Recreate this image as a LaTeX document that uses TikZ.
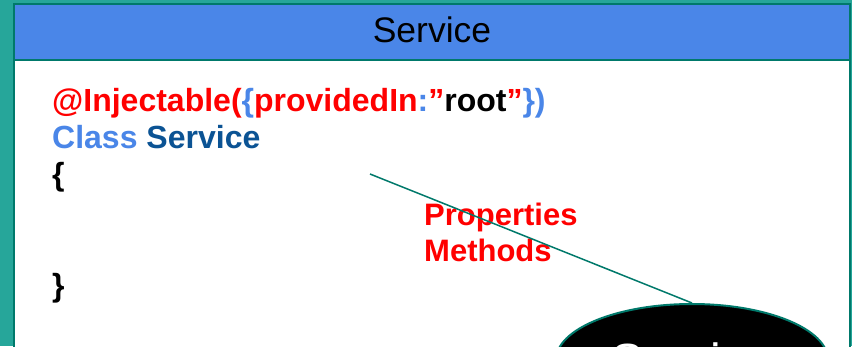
\documentclass[tikz,border=0pt]{standalone}
\usepackage{fontspec}
\setmainfont{Liberation Sans}
\usetikzlibrary{shapes.geometric}

\definecolor{bgteal}{HTML}{26A69A}
\definecolor{frameteal}{HTML}{00796B}
\definecolor{hdrblue}{HTML}{4A86E8}
\definecolor{kwblue}{HTML}{4A86E8}
\definecolor{namblue}{HTML}{0B5394}
\definecolor{codered}{HTML}{FF0000}

\tikzset{
  frame/.style={draw=frameteal, line width=2pt},
  codeline/.style={anchor=base west, inner sep=0pt, font=\fontsize{32}{37}\selectfont\bfseries},
  memberline/.style={anchor=base west, inner sep=0pt, text=codered, font=\fontsize{31}{36}\selectfont\bfseries},
  link/.style={draw=frameteal, line width=1.5pt},
}

\begin{document}
\begin{tikzpicture}[x=1pt, y=-1pt]
\useasboundingbox (0,0) rectangle (852,346);
\clip (0,0) rectangle (852,346);

% page background and the class card
\fill[bgteal] (0,0) rectangle (852,346);
\fill[white] (14.3,3.7) rectangle (850.3,360);
\fill[hdrblue] (14.3,3.7) rectangle (850.3,60.3);
\draw[frame] (14.3,360) -- (14.3,3.7) -- (850.3,3.7) -- (850.3,360);
\draw[frame] (14.3,60.3) -- (850.3,60.3);

% card title
\node[anchor=base, inner sep=0pt, font=\fontsize{35.5}{40}\selectfont] (title) at (432,42) {Service};

% class source
\node[codeline] (deco) at (52,111) {\textcolor{codered}{@Injectable(}\textcolor{kwblue}{\{}\textcolor{codered}{providedIn}\textcolor{kwblue}{:}\textcolor{codered}{”}\textcolor{black}{root}\textcolor{codered}{”}\textcolor{kwblue}{\})}};
\node[codeline] (decl) at (52,148) {\textcolor{kwblue}{Class} \textcolor{namblue}{Service}};
\node[codeline] (open) at (52,185) {\{};
\node[codeline] (close) at (52,296) {\}};

% class members
\node[memberline] (props) at (424,225) {Properties};
\node[memberline] (meths) at (424,261) {Methods};

% service instance
\node[ellipse, draw=frameteal, line width=2pt, fill=black, minimum width=272pt, minimum height=112pt, inner sep=0pt,
      text=white, font=\fontsize{48}{52}\selectfont] (svc) at (692,360) {Service};

% link from the class body to the instance
\coordinate (linkstart) at (370,174);
\draw[link] (linkstart) -- (svc.north);
\end{tikzpicture}
\end{document}
